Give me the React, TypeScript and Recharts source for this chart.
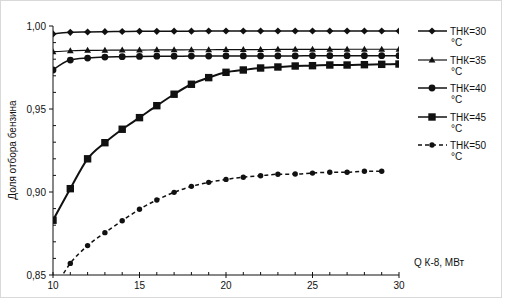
import React from "react";
import { LineChart, Line, XAxis, YAxis } from "recharts";

const xValues = [10, 11, 12, 13, 14, 15, 16, 17, 18, 19, 20, 21, 22, 23, 24, 25, 26, 27, 28, 29, 30];
const thk30 = [0.9952, 0.9962, 0.9964, 0.9966, 0.9967, 0.9968, 0.9968, 0.9969, 0.9969, 0.997, 0.997, 0.997, 0.997, 0.997, 0.997, 0.997, 0.997, 0.997, 0.997, 0.997, 0.997];
const thk35 = [0.9845, 0.9851, 0.9853, 0.9854, 0.9855, 0.9855, 0.9856, 0.9856, 0.9857, 0.9857, 0.9858, 0.9858, 0.9858, 0.9859, 0.9859, 0.9859, 0.9859, 0.986, 0.986, 0.986, 0.986];
const thk40 = [0.9735, 0.9795, 0.9807, 0.9813, 0.9815, 0.9817, 0.9818, 0.9818, 0.9819, 0.9819, 0.982, 0.982, 0.982, 0.982, 0.982, 0.9821, 0.9821, 0.9821, 0.9821, 0.9821, 0.9821];
const thk45 = [0.883, 0.902, 0.92, 0.9297, 0.9378, 0.9448, 0.952, 0.9589, 0.9649, 0.9689, 0.9721, 0.9735, 0.9747, 0.9753, 0.9759, 0.9761, 0.9765, 0.9765, 0.9767, 0.9769, 0.9771];
const thk50 = [0.84, 0.857, 0.8677, 0.8755, 0.8827, 0.8896, 0.8952, 0.8998, 0.9034, 0.9058, 0.9076, 0.9089, 0.9098, 0.9107, 0.9108, 0.9114, 0.9119, 0.9119, 0.9125, 0.9125, null];

const seriesNames = ["ТНК=30", "ТНК=35", "ТНК=40", "ТНК=45", "ТНК=50"];
const unitLabel = "°C";
const xTicks = [10, 11, 12, 13, 14, 15, 16, 17, 18, 19, 20, 21, 22, 23, 24, 25, 26, 27, 28, 29, 30];
const xMajor = [10, 15, 20, 25, 30];
const yTicks = [0.85, 0.86, 0.87, 0.88, 0.89, 0.9, 0.91, 0.92, 0.93, 0.94, 0.95, 0.96, 0.97, 0.98, 0.99, 1.0];
const yMajorLabels: Record<number, string> = { 85: "0,85", 90: "0,90", 95: "0,95", 100: "1,00" };
const xTitle = "Q К-8, МВт";
const yTitle = "Доля отбора бензина";

const data = xValues.map((x, i) => ({
  x,
  s30: thk30[i],
  s35: thk35[i],
  s40: thk40[i],
  s45: thk45[i],
  s50: thk50[i],
}));

const FONT = "Arial, 'Liberation Sans', sans-serif";
const INK = "#111";

type MarkerKind = "diamond" | "triangle" | "circle" | "square" | "smallcircle";

function Marker({ kind, cx, cy }: { kind: MarkerKind; cx: number; cy: number }) {
  switch (kind) {
    case "diamond":
      return <polygon points={`${cx},${cy - 3.6} ${cx + 3.6},${cy} ${cx},${cy + 3.6} ${cx - 3.6},${cy}`} fill={INK} />;
    case "triangle":
      return <polygon points={`${cx},${cy - 3.6} ${cx + 3.4},${cy + 2.4} ${cx - 3.4},${cy + 2.4}`} fill={INK} />;
    case "circle":
      return <circle cx={cx} cy={cy} r={3.4} fill={INK} />;
    case "square":
      return <rect x={cx - 3.7} y={cy - 3.7} width={7.4} height={7.4} fill={INK} />;
    default:
      return <circle cx={cx} cy={cy} r={2.7} fill={INK} />;
  }
}

const makeDot = (kind: MarkerKind) => (props: any) => {
  const { cx, cy, index, value } = props;
  if (cx == null || cy == null || value == null || Number.isNaN(cy)) return <g key={`d-${kind}-${index}`} />;
  return (
    <g key={`d-${kind}-${index}`}>
      <Marker kind={kind} cx={cx} cy={cy} />
    </g>
  );
};

const XTick = (props: any) => {
  const { x, y, payload } = props;
  const v = Math.round(payload.value);
  const major = xMajor.includes(v);
  return (
    <g>
      {major ? (
        <>
          <line x1={x} x2={x} y1={y - 3} y2={y + 3} stroke={INK} />
          <text x={x} y={y + 14} textAnchor="middle" fontSize={10} fontFamily={FONT} fill={INK}>
            {v}
          </text>
        </>
      ) : (
        <line x1={x} x2={x} y1={y - 3} y2={y} stroke={INK} />
      )}
    </g>
  );
};

const YTick = (props: any) => {
  const { x, y, payload } = props;
  const k = Math.round(payload.value * 100);
  const label = yMajorLabels[k];
  return (
    <g>
      {label ? (
        <>
          <line x1={x - 4} x2={x} y1={y} y2={y} stroke={INK} />
          <text x={x - 7} y={y + 3.5} textAnchor="end" fontSize={10} fontFamily={FONT} fill={INK}>
            {label}
          </text>
        </>
      ) : (
        <line x1={x} x2={x + 3} y1={y} y2={y} stroke={INK} />
      )}
    </g>
  );
};

const legendKinds: MarkerKind[] = ["diamond", "triangle", "circle", "square", "smallcircle"];
const legendY = [31, 60, 88, 117, 145];

export default function App() {
  return (
    <div style={{ position: "absolute", left: 0, top: 0, width: 505, height: 300, background: "#fff" }}>
      <svg width={505} height={300} style={{ position: "absolute", left: 0, top: 0 }}>
        <rect x={0.5} y={0.5} width={501} height={297} fill="#fff" stroke="#d9d9d9" />
      </svg>
      <div style={{ position: "absolute", left: 0, top: 0 }}>
        <LineChart width={505} height={300} data={data} margin={{ top: 26, right: 106, bottom: 0, left: 0 }}>
          <XAxis
            dataKey="x"
            type="number"
            domain={[10, 30]}
            ticks={xTicks}
            interval={0}
            allowDataOverflow
            height={25}
            tickSize={0}
            tickMargin={0}
            tickLine={false}
            axisLine={{ stroke: INK }}
            tick={<XTick />}
          />
          <YAxis
            type="number"
            domain={[0.85, 1.0]}
            ticks={yTicks}
            interval={0}
            allowDataOverflow
            width={53}
            tickSize={0}
            tickMargin={0}
            tickLine={false}
            axisLine={{ stroke: INK }}
            tick={<YTick />}
          />
          <Line dataKey="s30" name={seriesNames[0]} type="monotone" stroke={INK} strokeWidth={1.5} dot={makeDot("diamond")} isAnimationActive={false} />
          <Line dataKey="s35" name={seriesNames[1]} type="monotone" stroke={INK} strokeWidth={1.2} dot={makeDot("triangle")} isAnimationActive={false} />
          <Line dataKey="s40" name={seriesNames[2]} type="monotone" stroke={INK} strokeWidth={1.5} dot={makeDot("circle")} isAnimationActive={false} />
          <Line dataKey="s45" name={seriesNames[3]} type="monotone" stroke={INK} strokeWidth={2} dot={makeDot("square")} isAnimationActive={false} />
          <Line dataKey="s50" name={seriesNames[4]} type="monotone" stroke={INK} strokeWidth={1.5} strokeDasharray="4 3" dot={makeDot("smallcircle")} isAnimationActive={false} />
        </LineChart>
      </div>
      <svg width={505} height={300} style={{ position: "absolute", left: 0, top: 0, pointerEvents: "none" }}>
        <text x={16} y={150} transform="rotate(-90 16 150)" textAnchor="middle" fontSize={10} fontFamily={FONT} fill={INK}>
          {yTitle}
        </text>
        <text x={414} y={266} fontSize={10} fontFamily={FONT} fill={INK}>
          {xTitle}
        </text>
        {seriesNames.map((name, i) => (
          <g key={name}>
            <line
              x1={418}
              x2={447}
              y1={legendY[i]}
              y2={legendY[i]}
              stroke={INK}
              strokeWidth={i === 1 ? 1.2 : 1.5}
              strokeDasharray={i === 4 ? "4 3" : undefined}
            />
            <Marker kind={legendKinds[i]} cx={432} cy={legendY[i]} />
            <text x={450} y={legendY[i] + 3.5} fontSize={10} fontFamily={FONT} fill={INK}>
              {name}
            </text>
            <text x={451} y={legendY[i] + 15} fontSize={10} fontFamily={FONT} fill={INK}>
              {unitLabel}
            </text>
          </g>
        ))}
      </svg>
    </div>
  );
}
